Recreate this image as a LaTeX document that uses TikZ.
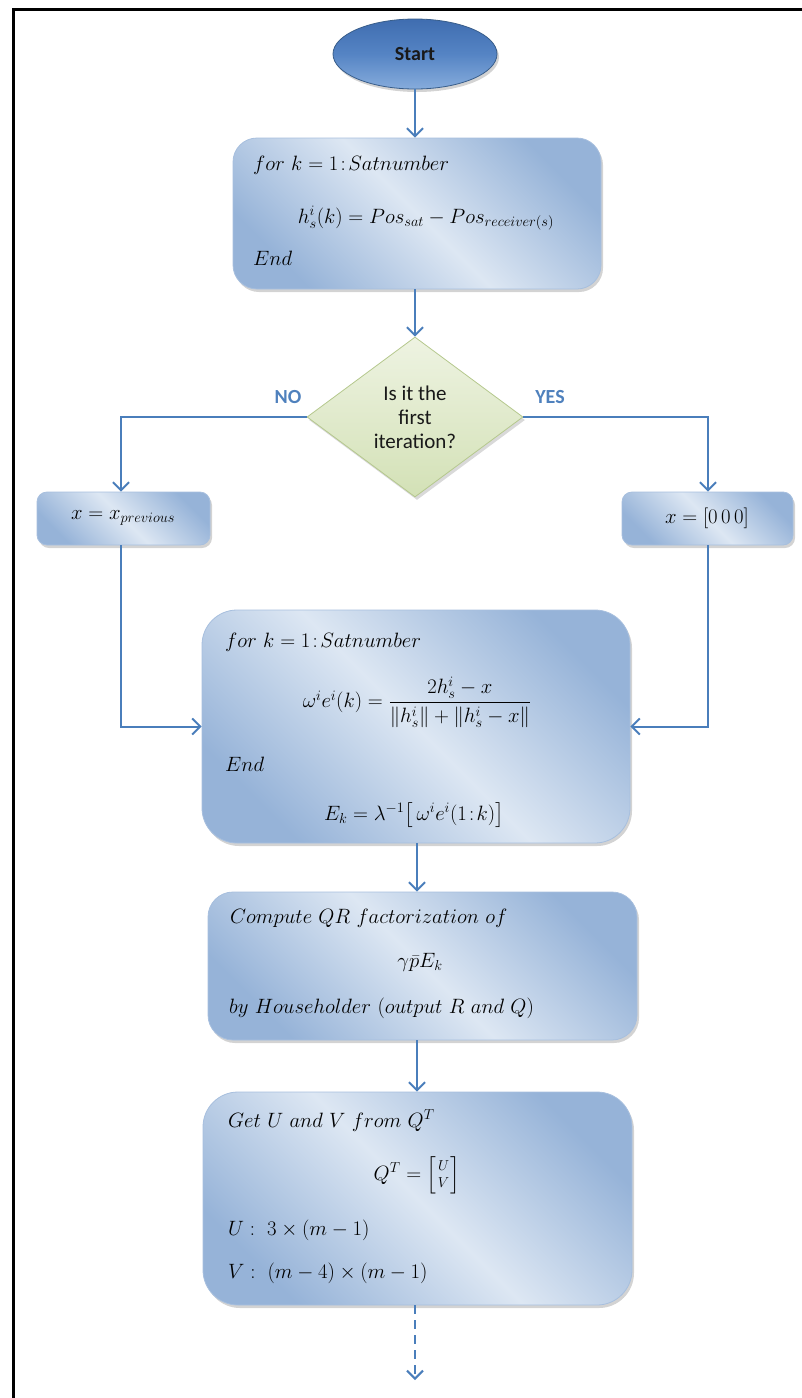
\documentclass[tikz,border=0pt]{standalone}
\usepackage{amsmath}
\usepackage{fontspec}
\newfontfamily\carlito{Carlito}
\usetikzlibrary{shapes.geometric,arrows.meta,shadows,calc}
\definecolor{lineblue}{HTML}{4A7EBB}
\definecolor{blight}{HTML}{DDE7F3}
\definecolor{bdark}{HTML}{96B3D8}
\definecolor{bedge}{HTML}{A7BFDE}
\definecolor{glight}{HTML}{EEF3E2}
\definecolor{gdark}{HTML}{D3E1B6}
\definecolor{gedge}{HTML}{B5C88D}
\definecolor{sdark}{HTML}{3F6DB0}
\definecolor{smid}{HTML}{5584C4}
\definecolor{slight}{HTML}{86ACDC}
\definecolor{sedge}{HTML}{385D8A}
\definecolor{labblue}{HTML}{4F81BD}
\tikzset{
  conn/.style={draw=lineblue, line width=2pt},
  arr/.style={conn, -{Straight Barb[length=8pt,width=16pt]}},
  procbox/.style={rectangle, rounded corners=#1, draw=bedge, line width=0.8pt,
    top color=bdark, bottom color=bdark, middle color=blight, shading angle=-45,
    drop shadow={shadow xshift=2pt, shadow yshift=-3pt, opacity=0.35}, inner sep=0pt},
  mtext/.style={font=\fontsize{21}{25}\selectfont, inner sep=0pt, text=black},
  dtext/.style={font=\carlito\fontsize{21}{24}\selectfont, inner sep=0pt, align=center, text=black!90},
  lab/.style={font=\carlito\bfseries\fontsize{20}{24}\selectfont, inner sep=0pt, text=labblue},
}
\begin{document}
\begin{tikzpicture}[x=1pt,y=-1pt]
\useasboundingbox (0,0) rectangle (802,1398);
\draw[line width=3pt, black] (13,1398) -- (13,9) -- (802,9);

% start
\node[ellipse, minimum width=164pt, minimum height=70pt, inner sep=0pt, draw=sedge, line width=0.8pt,
  top color=sdark, bottom color=slight, middle color=smid,
  drop shadow={shadow xshift=2pt, shadow yshift=-3pt, opacity=0.35}] (start) at (415,54) {};
\node[font=\carlito\bfseries\fontsize{20}{24}\selectfont, text=black!90] (startt) at (start.center) {Start};

% box 1
\node[procbox=24pt, minimum width=368pt, minimum height=151pt] (b1) at (417,213.5) {};
\node[mtext, anchor=base west] (b1a) at (253,170) {$for\ k=1\!:\!Satnumber$};
\node[mtext, anchor=base] (b1b) at (426,223) {$h_s^i(k)=Pos_{sat}-Pos_{receiver(s)}$};
\node[mtext, anchor=base west] (b1c) at (253,265) {$End$};

% diamond
\node[diamond, minimum width=216pt, minimum height=160pt, inner sep=0pt, draw=gedge, line width=0.8pt,
  top color=glight, bottom color=gdark,
  drop shadow={shadow xshift=2pt, shadow yshift=-3pt, opacity=0.3}] (dia) at (415,417) {};
\node[dtext] (diat) at (415,417) {Is it the\\first\\iteration?};
\node[lab] (no) at (288,397) {NO};
\node[lab] (yes) at (550,397) {YES};

% small boxes
\node[procbox=10pt, minimum width=173pt, minimum height=53pt] (xp) at (123.5,518.5) {};
\node[mtext] (xpt) at (123,518) {$x=x_{previous}$};
\node[procbox=10pt, minimum width=171pt, minimum height=53pt] (x0) at (707.5,518.5) {};
\node[mtext] (x0t) at (707,518) {$x=[0\,0\,0]$};

% box 3
\node[procbox=35pt, minimum width=428pt, minimum height=233pt] (b3) at (416,726.5) {};
\node[mtext, anchor=base west] (b3a) at (225,647) {$for\ k=1\!:\!Satnumber$};
\node[mtext] (b3b) at (417,702) {$\omega^i e^i(k)=\dfrac{2h_s^i-x}{\lVert h_s^i\rVert+\lVert h_s^i-x\rVert}$};
\node[mtext, anchor=base west] (b3c) at (225,771) {$End$};
\node[mtext, anchor=base] (b3d) at (414,820) {$E_k=\lambda^{-1}\bigl[\,\omega^i e^i(1\!:\!k)\bigr]$};

% box 4
\node[procbox=25pt, minimum width=429pt, minimum height=148pt] (b4) at (422.5,966) {};
\node[mtext, anchor=base west] (b4a) at (230,923) {$Compute\ QR\ factorization\ of$};
\node[mtext, anchor=base] (b4b) at (420,967) {$\gamma\bar{p}E_k$};
\node[mtext, anchor=base west] (b4c) at (229,1013) {$by\ Householder\ (output\ R\ and\ Q)$};

% box 5
\node[procbox=35pt, minimum width=429pt, minimum height=213pt] (b5) at (417.5,1198.5) {};
\node[mtext, anchor=base west] (b5a) at (228,1127) {$Get\ U\ and\ V\ from\ Q^T$};
\node[mtext] (b5b) at (417,1175) {$Q^T=\left[\genfrac{}{}{0pt}{1}{U}{V}\right]$};
\node[mtext, anchor=base west] (b5c) at (228,1235) {$U:\ 3\times(m-1)$};
\node[mtext, anchor=base west] (b5d) at (228,1278) {$V:\ (m-4)\times(m-1)$};
\coordinate (endpt) at (415,1380);

% connectors
\draw[arr] (start.south) -- (b1.north -| start.south);
\draw[arr] (b1.south -| dia.north) -- (dia.north);
\draw[arr] (dia.west) -| (xp.north -| 121,0);
\draw[arr] (dia.east) -| (x0.north -| 708,0);
\draw[arr] (xp.south -| 121,0) |- (b3.west);
\draw[arr] (x0.south -| 708,0) |- (b3.east);
\draw[arr] (b3.south -| 417,0) -- (b4.north -| 417,0);
\draw[arr] (b4.south -| 417,0) -- (b5.north -| 417,0);
\draw[arr, dash pattern=on 9pt off 6pt] (b5.south -| endpt) -- (endpt);
\end{tikzpicture}
\end{document}
